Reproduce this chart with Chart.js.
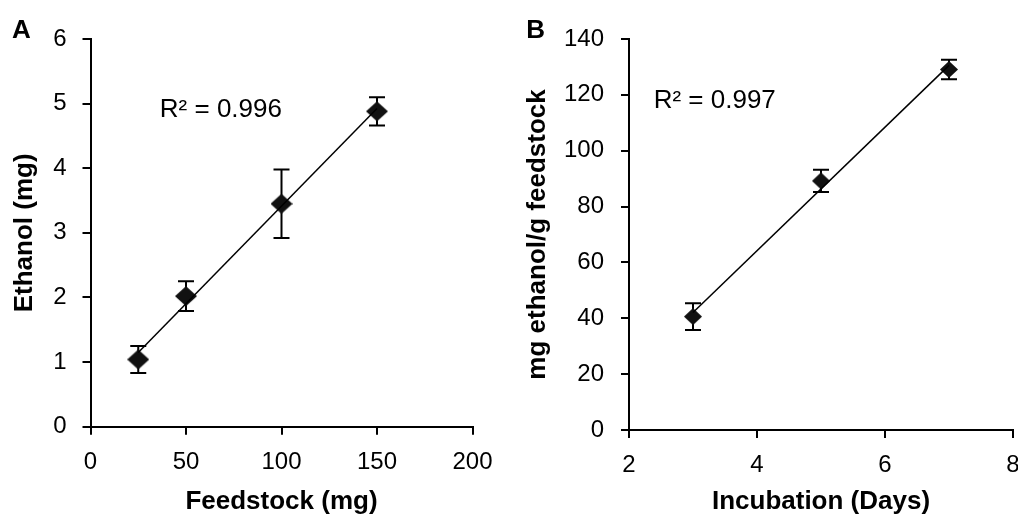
<!DOCTYPE html>
<html>
<head>
<meta charset="utf-8">
<script src="https://cdn.jsdelivr.net/npm/chart.js@4.4.1/dist/chart.umd.min.js"></script>
<style>
  html, body { margin: 0; padding: 0; background: #fff; overflow: hidden; }
  #wrap { position: relative; width: 1018px; height: 519px; overflow: hidden; }
  #chartA { position: absolute; left: 0; top: 0; }
  #chartB { position: absolute; left: 509px; top: 0; }
</style>
</head>
<body>
<div id="wrap">
  <canvas id="chartA" width="509" height="519"></canvas>
  <canvas id="chartB" width="540" height="519"></canvas>
</div>
<script>
// Panel A: ethanol produced vs. feedstock loaded
const feedstockMg = [25, 50, 100, 150];
const ethanolMg = [1.04, 2.02, 3.45, 4.88];
const ethanolErr = [0.21, 0.23, 0.53, 0.22];
const feedstockTicks = [0, 50, 100, 150, 200];
const ethanolTicks = [0, 1, 2, 3, 4, 5, 6];

// Panel B: yield vs. incubation time
const incubationDays = [3, 5, 7];
const yieldMgPerG = [40.6, 89.2, 129.1];
const yieldErr = [4.8, 4.0, 3.5];
const dayTicks = [2, 4, 6, 8];
const yieldTicks = [0, 20, 40, 60, 80, 100, 120, 140];

const FONT = '"Liberation Sans", Arial, Helvetica, sans-serif';
Chart.defaults.font.family = FONT;
Chart.defaults.color = '#000';

// least squares line across the data range (Excel-style trendline)
function linearFit(xs, ys) {
  const n = xs.length;
  const mx = xs.reduce((a, b) => a + b, 0) / n;
  const my = ys.reduce((a, b) => a + b, 0) / n;
  let sxy = 0, sxx = 0;
  xs.forEach((x, i) => { sxy += (x - mx) * (ys[i] - my); sxx += (x - mx) * (x - mx); });
  const slope = sxy / sxx;
  const icpt = my - slope * mx;
  return [xs[0], xs[n - 1]].map(x => ({ x: x, y: icpt + slope * x }));
}

function diamond(w, h, color) {
  const c = document.createElement('canvas');
  c.width = w; c.height = h;
  const g = c.getContext('2d');
  g.fillStyle = color;
  g.beginPath();
  g.moveTo(w / 2, 0); g.lineTo(w, h / 2); g.lineTo(w / 2, h); g.lineTo(0, h / 2);
  g.closePath();
  g.fill();
  return c;
}

const errorBars = {
  id: 'errorBars',
  beforeDatasetsDraw(chart, args, opts) {
    const { ctx, scales: { x, y } } = chart;
    ctx.save();
    ctx.strokeStyle = '#000';
    ctx.lineWidth = 2;
    opts.xs.forEach((v, i) => {
      const px = x.getPixelForValue(v);
      const top = y.getPixelForValue(opts.ys[i] + opts.err[i]);
      const bot = y.getPixelForValue(opts.ys[i] - opts.err[i]);
      ctx.beginPath();
      ctx.moveTo(px, top); ctx.lineTo(px, bot);
      ctx.moveTo(px - opts.cap, top); ctx.lineTo(px + opts.cap, top);
      ctx.moveTo(px - opts.cap, bot); ctx.lineTo(px + opts.cap, bot);
      ctx.stroke();
    });
    ctx.restore();
  }
};

const panelText = {
  id: 'panelText',
  afterDraw(chart, args, opts) {
    const { ctx, scales: { x, y } } = chart;
    ctx.save();
    ctx.fillStyle = '#000';
    ctx.textAlign = 'left';
    ctx.textBaseline = 'middle';
    ctx.font = '26px ' + FONT;
    ctx.fillText(opts.r2, x.getPixelForValue(opts.r2At[0]), y.getPixelForValue(opts.r2At[1]));
    ctx.textBaseline = 'alphabetic';
    ctx.font = 'bold 26px ' + FONT;
    ctx.fillText(opts.letter, opts.letterAt[0], opts.letterAt[1]);
    ctx.restore();
  }
};

function axis(ticks, title, tickPad, titlePad, fit) {
  return {
    type: 'linear',
    min: ticks[0],
    max: ticks[ticks.length - 1],
    afterBuildTicks: s => { s.ticks = ticks.map(v => ({ value: v })); },
    afterFit: fit,
    grid: { display: true, drawOnChartArea: false, drawTicks: true, tickLength: 8, color: '#000', lineWidth: 2 },
    border: { display: true, color: '#000', width: 2 },
    ticks: { font: { size: 24 }, color: '#000', padding: tickPad, maxRotation: 0 },
    title: { display: true, text: title, color: '#000', font: { size: 26, weight: 'bold' }, padding: titlePad }
  };
}

function makePanel(id, p) {
  const canvas = document.getElementById(id);
  const W = canvas.width, H = canvas.height;
  return new Chart(canvas, {
    type: 'scatter',
    data: {
      datasets: [
        {
          type: 'line',
          data: linearFit(p.xs, p.ys),
          borderColor: '#000',
          borderWidth: 1.5,
          pointRadius: 0,
          fill: false
        },
        {
          data: p.xs.map((x, i) => ({ x: x, y: p.ys[i] })),
          pointStyle: p.marker,
          pointRadius: 10,
          backgroundColor: '#111',
          borderColor: '#111'
        }
      ]
    },
    options: {
      responsive: false,
      animation: false,
      layout: { padding: { top: p.area.top, right: W - p.area.right, left: 0, bottom: 0 } },
      plugins: {
        legend: { display: false },
        tooltip: { enabled: false },
        errorBars: { xs: p.xs, ys: p.ys, err: p.err, cap: 8 },
        panelText: p.text
      },
      scales: {
        x: axis(p.xTicks, p.xTitle, 13, { top: 0, bottom: 2 }, s => { s.height = H - p.area.bottom; }),
        y: axis(p.yTicks, p.yTitle, p.yTickPad, { top: p.yTitlePad, bottom: 0 }, s => { s.width = p.area.left; })
      }
    },
    plugins: [errorBars, panelText]
  });
}

makePanel('chartA', {
  xs: feedstockMg, ys: ethanolMg, err: ethanolErr,
  xTicks: feedstockTicks, yTicks: ethanolTicks,
  xTitle: 'Feedstock (mg)', yTitle: 'Ethanol (mg)',
  area: { left: 90.5, top: 39, right: 472.5, bottom: 426.7 },
  yTickPad: 16, yTitlePad: 9,
  marker: diamond(22, 20, '#111'),
  text: { r2: 'R² = 0.996', r2At: [36.3, 4.91], letter: 'A', letterAt: [12, 38.3] }
});

makePanel('chartB', {
  xs: incubationDays, ys: yieldMgPerG, err: yieldErr,
  xTicks: dayTicks, yTicks: yieldTicks,
  xTitle: 'Incubation (Days)', yTitle: 'mg ethanol/g feedstock',
  area: { left: 120, top: 39, right: 504, bottom: 430 },
  yTickPad: 17, yTitlePad: 13,
  marker: diamond(18, 17, '#111'),
  text: { r2: 'R² = 0.997', r2At: [2.386, 117.8], letter: 'B', letterAt: [17.3, 37.7] }
});
</script>
</body>
</html>
